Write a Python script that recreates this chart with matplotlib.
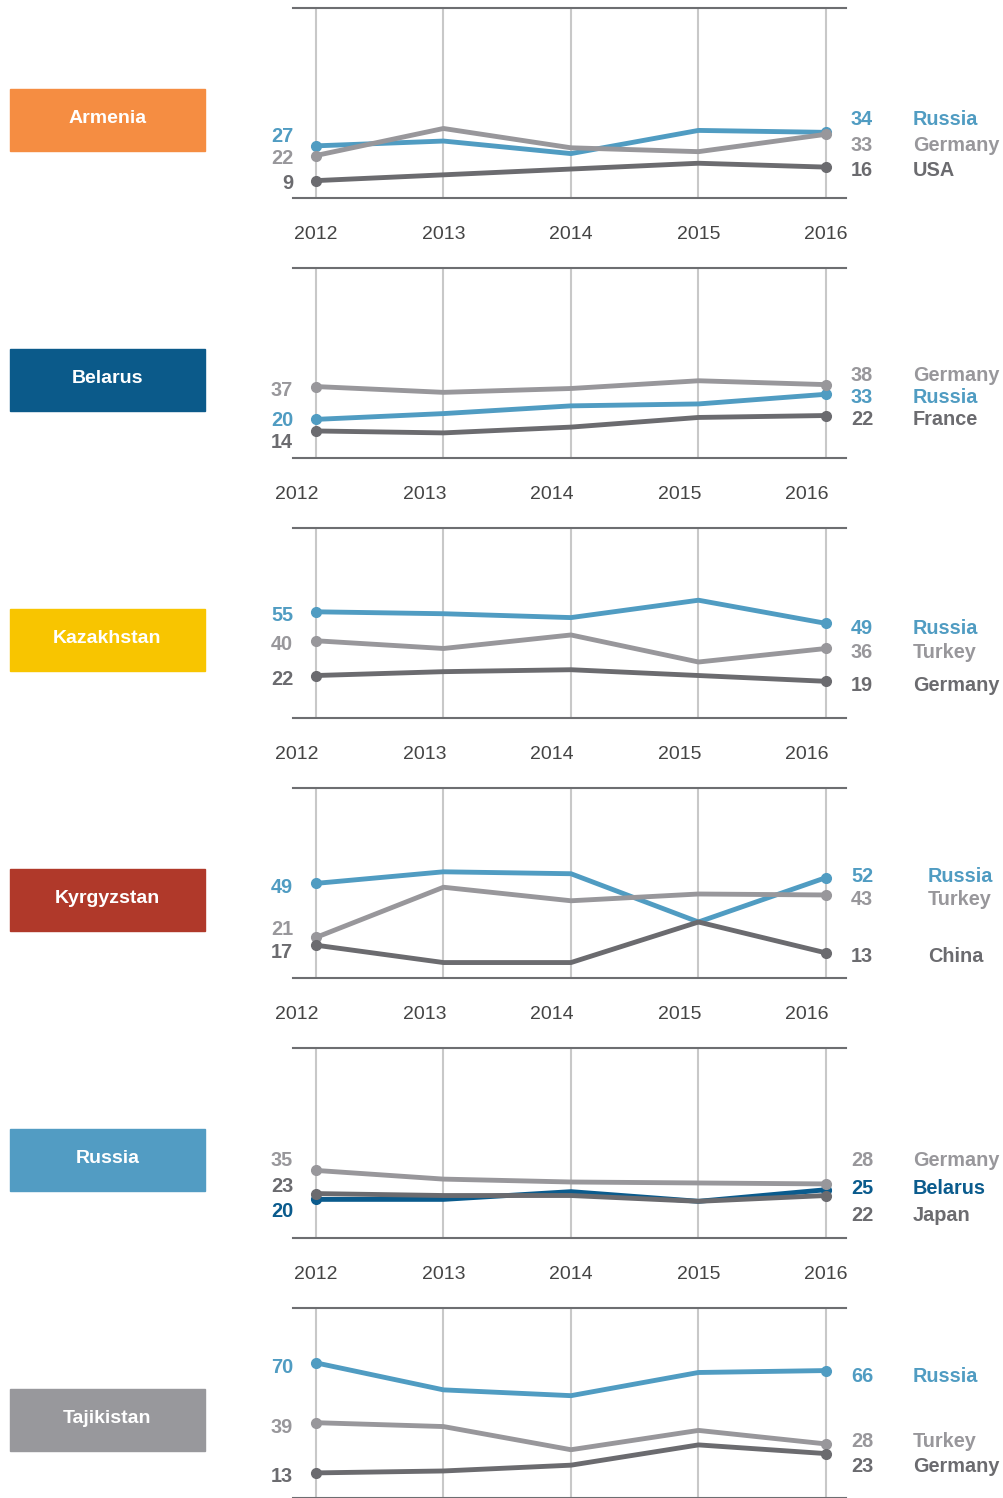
import matplotlib
matplotlib.use("Agg")
import matplotlib.pyplot as plt
from matplotlib.patches import Rectangle
from matplotlib.transforms import ScaledTranslation

plt.rcParams['font.family'] = ['Liberation Sans', 'DejaVu Sans']

# Data

years = [2012, 2013, 2014, 2015, 2016]
countries = ['Armenia', 'Belarus', 'Kazakhstan', 'Kyrgyzstan', 'Russia', 'Tajikistan']

# partners per panel, in drawing order: blue line, light grey line, dark grey line
partners = [
    ['Russia', 'Germany', 'USA'],
    ['Russia', 'Germany', 'France'],
    ['Russia', 'Turkey', 'Germany'],
    ['Russia', 'Turkey', 'China'],
    ['Belarus', 'Germany', 'Japan'],
    ['Russia', 'Turkey', 'Germany'],
]

armenia = [[27, 29.5, 23, 35, 34], [22, 36, 26, 24, 33], [9, 12, 15, 18, 16]]
belarus = [[20, 23, 27, 28, 33], [37, 34, 36, 40, 38], [14, 13, 16, 21, 22]]
kazakhstan = [[55, 54, 52, 61, 49], [40, 36, 43, 29, 36], [22, 24, 25, 22, 19]]
kyrgyzstan = [[49, 55, 54, 29, 52], [21, 47, 40, 43.5, 43], [17, 8, 8, 29, 13]]
russia = [[20, 20, 24, 19, 25], [35, 30.5, 29, 28.5, 28], [23, 22, 22, 19, 22]]
tajikistan = [[70, 56, 53, 65, 66], [39, 37, 25, 35, 28], [13, 14, 17, 27.5, 23]]
values = [armenia, belarus, kazakhstan, kyrgyzstan, russia, tajikistan]

# Styling / layout

box_colors = ['#F58D42', '#0B5A8A', '#F8C500', '#B0392A', '#529CC3', '#98989C']
blue, light, dark, navy = '#509CC2', '#98979B', '#6B6B6F', '#0A5B8D'
line_colors = [[blue, light, dark]] * 4 + [[navy, light, dark], [blue, light, dark]]

# label heights (data units) for the 2012 / 2016 value labels
left_label_y = [[33.2, 21.8, 8.8], [20.7, 36.3, 9.3], [54.4, 39.4, 21.2],
                [48.2, 26.4, 14.5], [15, 41.5, 28], [68.9, 37.8, 12.4]]
right_label_y = [[42, 28.5, 15.5], [32.6, 44, 21.2], [47.7, 35.2, 18.1],
                 [53.9, 42, 12.4], [26.9, 41.5, 13], [64.2, 30.6, 17.6]]
name_offset = [48, 48, 48, 59, 48, 48]        # points right of axes
year_shift = [0, -19, -19, -19, 0, 0]         # pixels
show_years = [True, True, True, True, True, False]
fs = 14.3
dy = -1.8

W, H = 1004, 1498
fig = plt.figure(figsize=(W / 100, H / 100), dpi=100)

for i, country in enumerate(countries):
    top = 8 + 260 * i
    ax = fig.add_axes([293 / W, 1 - (top + 190) / H, 553 / W, 190 / H])
    ax.set_xlim(2011.82, 2016.157)
    ax.set_ylim(0, 98.4)

    for j in range(3):
        c = line_colors[i][j]
        ax.plot(years, values[i][j], color=c, lw=3.5,
                marker='o', markevery=[0, 4], markersize=7, zorder=3 + j)
        ax.annotate(f"{values[i][j][0]:.0f}", xy=(0, left_label_y[i][j]),
                    xycoords=('axes fraction', 'data'), xytext=(0, dy),
                    textcoords='offset points', ha='right', va='center',
                    fontsize=fs, fontweight='bold', color=c, annotation_clip=False)
        ax.annotate(f"{values[i][j][-1]:.0f}", xy=(1, right_label_y[i][j]),
                    xycoords=('axes fraction', 'data'), xytext=(3.6, dy),
                    textcoords='offset points', ha='left', va='center',
                    fontsize=fs, fontweight='bold', color=c, annotation_clip=False)
        ax.annotate(partners[i][j], xy=(1, right_label_y[i][j]),
                    xycoords=('axes fraction', 'data'), xytext=(name_offset[i], dy),
                    textcoords='offset points', ha='left', va='center',
                    fontsize=fs, fontweight='bold', color=c, annotation_clip=False)

    ax.set_xticks(years)
    ax.set_yticks([])
    ax.grid(axis='x', color='#C8C8C8', lw=1.5)
    ax.set_axisbelow(True)
    for s in ['left', 'right']:
        ax.spines[s].set_visible(False)
    for s in ['top', 'bottom']:
        ax.spines[s].set_color('#6D6E71')
        ax.spines[s].set_linewidth(1.5)
    ax.tick_params(axis='x', length=0, pad=20, labelsize=14, labelcolor='#444444')
    if show_years[i]:
        shift = ScaledTranslation(year_shift[i] / 100, 0, fig.dpi_scale_trans)
        for lab in ax.get_xticklabels():
            lab.set_transform(lab.get_transform() + shift)
    else:
        ax.set_xticklabels([])

    # country box
    fig.patches.append(Rectangle((10 / W, 1 - (top + 143) / H), 195 / W, 62 / H,
                                 transform=fig.transFigure, color=box_colors[i]))
    fig.text(107.5 / W, 1 - (top + 110.5) / H, country, ha='center', va='center',
             color='white', fontsize=14, fontweight='bold')

fig.savefig('out.png', dpi=100)
